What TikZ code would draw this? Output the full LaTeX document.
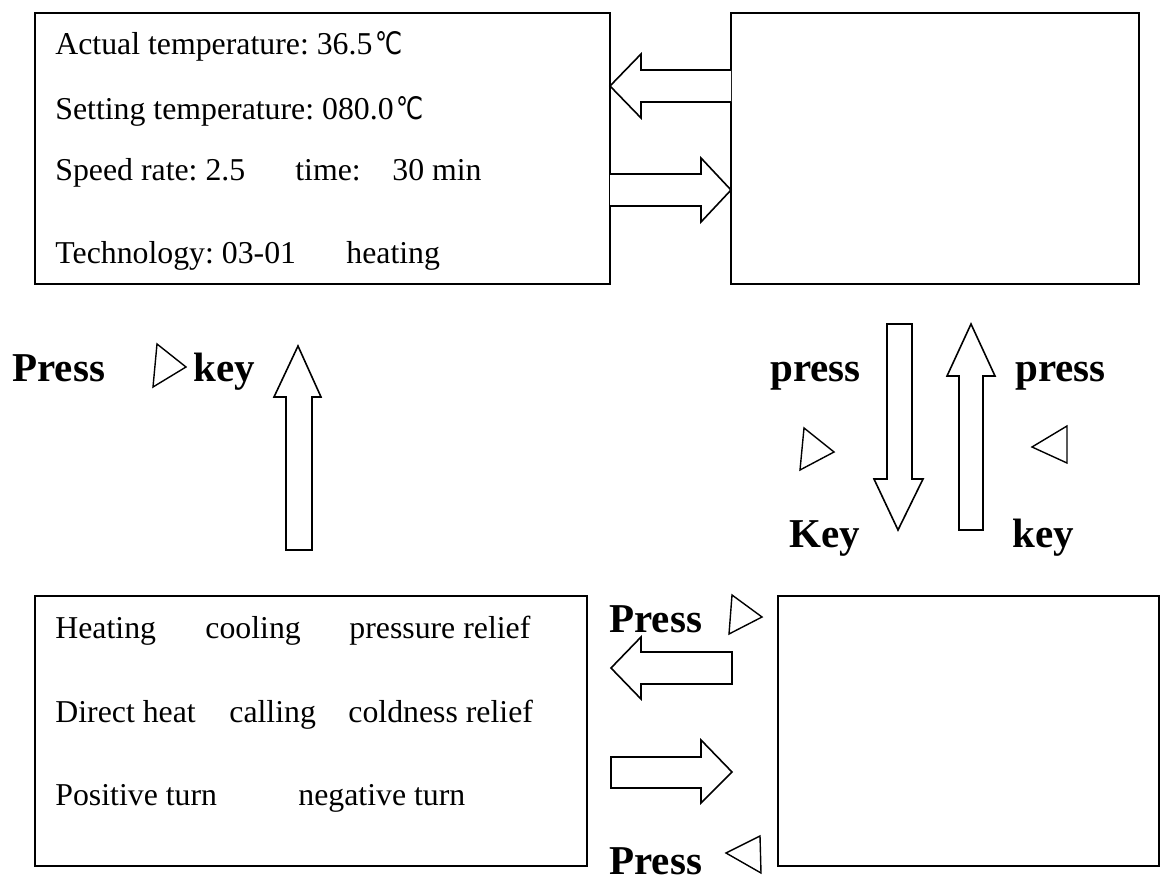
\documentclass[tikz,border=0pt]{standalone}
\usepackage{fontspec}
\setmainfont{Liberation Serif}
\newfontfamily\symfont{DejaVu Sans}
\newcommand{\degC}{\kern1.5pt\scalebox{0.78}[1]{\symfont\fontsize{15.5pt}{17pt}\selectfont ℃}}
\frenchspacing
\begin{document}
\begin{tikzpicture}[x=0.5pt,y=-0.5pt,
  panel/.style={draw,line width=1pt},
  blockarrow/.style={draw,line width=0.8pt,fill=white,line join=miter},
  keytri/.style={draw,line width=0.7pt,line join=miter},
  bodytxt/.style={anchor=base west,inner sep=0pt,font=\fontsize{15.9pt}{18pt}\selectfont},
  boldtxt/.style={anchor=base west,inner sep=0pt,font=\fontsize{20.5pt}{24pt}\selectfont\bfseries}]
\useasboundingbox (0,0) rectangle (1160,881);
% panels
\draw[panel] (35,13) rectangle (610,284);
\draw[panel] (731,13) rectangle (1139,284);
\draw[panel] (35,596) rectangle (587,866);
\draw[panel] (778,596) rectangle (1159,866);
% texts box A
\node[bodytxt] (a1) at (55,55) {Actual temperature: 36.5\degC};
\node[bodytxt] (a2) at (55,120) {Setting temperature: 080.0\degC};
\node[bodytxt] (a3) at (55,181) {Speed rate: 2.5};
\node[bodytxt] (a3b) at (295,181) {time:};
\node[bodytxt] (a3c) at (392,181) {30 min};
\node[bodytxt] (a4) at (55,264) {Technology: 03-01};
\node[bodytxt] (a4b) at (346,264) {heating};
% texts box C
\node[bodytxt] (c1) at (55,638) {Heating};
\node[bodytxt] (c1b) at (205,638) {cooling};
\node[bodytxt] (c1c) at (349,638) {pressure relief};
\node[bodytxt] (c2) at (55,722) {Direct heat};
\node[bodytxt] (c2b) at (229,722) {calling};
\node[bodytxt] (c2c) at (348,722) {coldness relief};
\node[bodytxt] (c3) at (55,805) {Positive turn};
\node[bodytxt] (c3b) at (298,805) {negative turn};
% bold labels
\node[boldtxt] (l1) at (12,382) {Press};
\node[boldtxt] (l2) at (193,382) {key};
\node[boldtxt] (l3) at (770,382) {press};
\node[boldtxt] (l4) at (1015,382) {press};
\node[boldtxt] (l5) at (789,547) {Key};
\node[boldtxt] (l6) at (1012,547) {key};
\node[boldtxt] (l7) at (609,632) {Press};
\node[boldtxt] (l8) at (609,874) {Press};
% key triangles
\draw[keytri] (153,387) -- (157,344) -- (186,367) -- cycle;
\draw[keytri] (800,470) -- (804,428) -- (834,452) -- cycle;
\draw[keytri] (1032,447) -- (1067,426) -- (1067,463) -- cycle;
\draw[keytri] (729,634) -- (732,595) -- (762,617) -- cycle;
\draw[keytri] (726,853) -- (760,836) -- (761,873) -- cycle;
% block arrows
\draw[blockarrow] (731,70) -- (641,70) -- (641,54) -- (610,86) -- (641,118) -- (641,102) -- (731,102);
\draw[blockarrow] (610,174) -- (701,174) -- (701,158) -- (731,190) -- (701,222) -- (701,206) -- (610,206);
\draw[blockarrow] (286,550) -- (286,397) -- (274,397) -- (298,346) -- (321,397) -- (312,397) -- (312,550) -- cycle;
\draw[blockarrow] (887,324) -- (887,479) -- (874,479) -- (898,530) -- (923,479) -- (912,479) -- (912,324) -- cycle;
\draw[blockarrow] (959,530) -- (959,376) -- (947,376) -- (971,324) -- (995,376) -- (983,376) -- (983,530) -- cycle;
\draw[blockarrow] (732,652) -- (641,652) -- (641,637) -- (611,668) -- (641,699) -- (641,684) -- (732,684) -- cycle;
\draw[blockarrow] (611,757) -- (701,757) -- (701,740) -- (732,772) -- (701,803) -- (701,788) -- (611,788) -- cycle;
\end{tikzpicture}
\end{document}
